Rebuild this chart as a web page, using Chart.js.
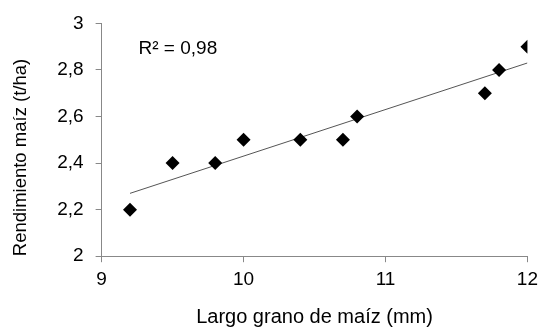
<!DOCTYPE html>
<html>
<head>
<meta charset="utf-8">
<script src="https://cdn.jsdelivr.net/npm/chart.js@4/dist/chart.umd.min.js"></script>
<style>
  body { margin: 0; background: #fff; }
  #wrap { width: 544px; height: 329px; }
</style>
</head>
<body>
<div id="wrap"><canvas id="chart" width="544" height="329"></canvas></div>
<script>
// largo de grano (mm) y rendimiento (t/ha)
const largo = [9.2, 9.5, 9.8, 10.0, 10.4, 10.7, 10.8, 11.7, 11.8, 12.0];
const rendimiento = [2.2, 2.4, 2.4, 2.5, 2.5, 2.5, 2.6, 2.7, 2.8, 2.9];
// linea de tendencia (extremos)
const tendenciaX = [9.2, 12.0];
const tendenciaY = [2.27, 2.83];
const xTicks = [9, 10, 11, 12];
const yTicks = [2, 2.2, 2.4, 2.6, 2.8, 3];
const r2Label = 'R² = 0,98';

const fuente = 'Liberation Sans, Arial, sans-serif';

// texto R2 dentro del area del grafico
const r2Plugin = {
  id: 'r2',
  afterDatasetsDraw(chart) {
    const ctx = chart.ctx;
    const x = chart.scales.x.getPixelForValue(9.26);
    const y = chart.scales.y.getPixelForValue(2.893);
    ctx.save();
    ctx.font = '19px ' + fuente;
    ctx.fillStyle = '#000';
    ctx.textBaseline = 'middle';
    ctx.fillText(r2Label, x, y);
    ctx.restore();
  }
};

new Chart(document.getElementById('chart'), {
  type: 'scatter',
  data: {
    datasets: [
      {
        data: largo.map((v, i) => ({ x: v, y: rendimiento[i] })),
        pointStyle: 'rectRot',
        radius: 7,
        backgroundColor: '#000',
        borderColor: '#000',
        borderWidth: 0
      },
      {
        type: 'line',
        data: tendenciaX.map((v, i) => ({ x: v, y: tendenciaY[i] })),
        borderColor: '#555',
        borderWidth: 1,
        pointRadius: 0,
        fill: false
      }
    ]
  },
  options: {
    responsive: false,
    animation: false,
    layout: { padding: { left: 6, right: 10, top: 18, bottom: 0 } },
    plugins: {
      legend: { display: false },
      tooltip: { enabled: false }
    },
    scales: {
      x: {
        type: 'linear',
        min: 9,
        max: 12,
        afterBuildTicks: (axis) => { axis.ticks = xTicks.map(v => ({ value: v })); },
        ticks: { color: '#000', font: { family: fuente, size: 19 }, padding: 6 },
        grid: { drawOnChartArea: false, drawTicks: true, tickLength: 6, color: '#888' },
        border: { color: '#888' },
        title: {
          display: true,
          text: 'Largo grano de maíz (mm)',
          color: '#000',
          font: { family: fuente, size: 20 },
          padding: { top: 8, bottom: 0 }
        }
      },
      y: {
        min: 2,
        max: 3,
        afterBuildTicks: (axis) => { axis.ticks = yTicks.map(v => ({ value: v })); },
        ticks: {
          color: '#000',
          font: { family: fuente, size: 19 },
          padding: 12,
          callback: (v) => String(v).replace('.', ',')
        },
        grid: { drawOnChartArea: false, drawTicks: true, tickLength: 6, color: '#888' },
        border: { color: '#888' },
        title: {
          display: true,
          align: 'start',
          text: 'Rendimiento maíz (t/ha)',
          color: '#000',
          font: { family: fuente, size: 18.5 },
          padding: { top: 4, bottom: 13 }
        }
      }
    }
  },
  plugins: [r2Plugin]
});
</script>
</body>
</html>
